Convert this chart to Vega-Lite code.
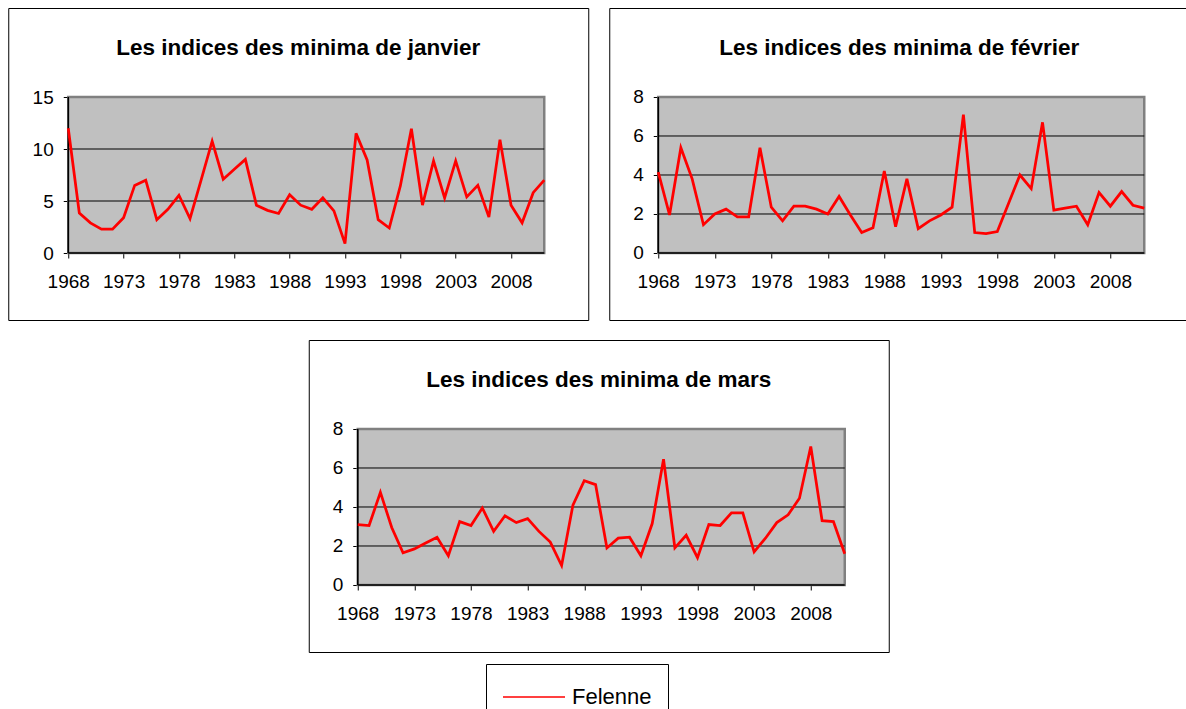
{
  "$schema": "https://vega.github.io/schema/vega-lite/v6.json",
  "padding": {"left": 7, "top": 7, "right": 0, "bottom": 0},
  "background": "white",
  "config": {
    "font": "Liberation Sans",
    "view": {"stroke": "black", "strokeWidth": 1},
    "title": {"fontSize": 22.5, "fontWeight": "bold", "color": "black", "anchor": "middle", "offset": -51, "font": "Liberation Sans"},
    "axis": {"labelFont": "Liberation Sans", "labelFontSize": 19, "labelColor": "black", "tickColor": "black", "tickSize": 5, "tickWidth": 1, "domain": false, "grid": false},
    "legend": {"orient": "none", "legendX": 478, "legendY": 656, "strokeColor": "black", "fillColor": "white", "padding": 16, "clipHeight": 34, "symbolType": "stroke", "symbolSize": 3844, "symbolStrokeWidth": 1.5, "labelFont": "Liberation Sans", "labelFontSize": 22, "labelColor": "black", "labelOffset": 6}
  },
  "datasets": {
    "jan": [
      {"year": 1968, "v": 12.0, "s": "Felenne"}, {"year": 1969, "v": 3.85, "s": "Felenne"}, {"year": 1970, "v": 2.9, "s": "Felenne"}, {"year": 1971, "v": 2.3, "s": "Felenne"},
      {"year": 1972, "v": 2.3, "s": "Felenne"}, {"year": 1973, "v": 3.4, "s": "Felenne"}, {"year": 1974, "v": 6.5, "s": "Felenne"}, {"year": 1975, "v": 7.0, "s": "Felenne"},
      {"year": 1976, "v": 3.2, "s": "Felenne"}, {"year": 1977, "v": 4.2, "s": "Felenne"}, {"year": 1978, "v": 5.55, "s": "Felenne"}, {"year": 1979, "v": 3.3, "s": "Felenne"},
      {"year": 1980, "v": 7.0, "s": "Felenne"}, {"year": 1981, "v": 10.75, "s": "Felenne"}, {"year": 1982, "v": 7.1, "s": "Felenne"}, {"year": 1983, "v": 8.05, "s": "Felenne"},
      {"year": 1984, "v": 9.0, "s": "Felenne"}, {"year": 1985, "v": 4.6, "s": "Felenne"}, {"year": 1986, "v": 4.1, "s": "Felenne"}, {"year": 1987, "v": 3.8, "s": "Felenne"},
      {"year": 1988, "v": 5.6, "s": "Felenne"}, {"year": 1989, "v": 4.6, "s": "Felenne"}, {"year": 1990, "v": 4.2, "s": "Felenne"}, {"year": 1991, "v": 5.3, "s": "Felenne"},
      {"year": 1992, "v": 4.05, "s": "Felenne"}, {"year": 1993, "v": 0.9, "s": "Felenne"}, {"year": 1994, "v": 11.5, "s": "Felenne"}, {"year": 1995, "v": 8.95, "s": "Felenne"},
      {"year": 1996, "v": 3.2, "s": "Felenne"}, {"year": 1997, "v": 2.4, "s": "Felenne"}, {"year": 1998, "v": 6.45, "s": "Felenne"}, {"year": 1999, "v": 11.95, "s": "Felenne"},
      {"year": 2000, "v": 4.6, "s": "Felenne"}, {"year": 2001, "v": 8.85, "s": "Felenne"}, {"year": 2002, "v": 5.3, "s": "Felenne"}, {"year": 2003, "v": 8.85, "s": "Felenne"},
      {"year": 2004, "v": 5.4, "s": "Felenne"}, {"year": 2005, "v": 6.5, "s": "Felenne"}, {"year": 2006, "v": 3.45, "s": "Felenne"}, {"year": 2007, "v": 10.9, "s": "Felenne"},
      {"year": 2008, "v": 4.6, "s": "Felenne"}, {"year": 2009, "v": 2.9, "s": "Felenne"}, {"year": 2010, "v": 5.8, "s": "Felenne"}, {"year": 2011, "v": 7.0, "s": "Felenne"}
    ],
    "feb": [
      {"year": 1968, "v": 4.15, "s": "Felenne"}, {"year": 1969, "v": 1.95, "s": "Felenne"}, {"year": 1970, "v": 5.4, "s": "Felenne"}, {"year": 1971, "v": 3.8, "s": "Felenne"},
      {"year": 1972, "v": 1.45, "s": "Felenne"}, {"year": 1973, "v": 2.0, "s": "Felenne"}, {"year": 1974, "v": 2.25, "s": "Felenne"}, {"year": 1975, "v": 1.85, "s": "Felenne"},
      {"year": 1976, "v": 1.85, "s": "Felenne"}, {"year": 1977, "v": 5.4, "s": "Felenne"}, {"year": 1978, "v": 2.35, "s": "Felenne"}, {"year": 1979, "v": 1.65, "s": "Felenne"},
      {"year": 1980, "v": 2.4, "s": "Felenne"}, {"year": 1981, "v": 2.4, "s": "Felenne"}, {"year": 1982, "v": 2.25, "s": "Felenne"}, {"year": 1983, "v": 2.0, "s": "Felenne"},
      {"year": 1984, "v": 2.9, "s": "Felenne"}, {"year": 1985, "v": 1.95, "s": "Felenne"}, {"year": 1986, "v": 1.05, "s": "Felenne"}, {"year": 1987, "v": 1.3, "s": "Felenne"},
      {"year": 1988, "v": 4.2, "s": "Felenne"}, {"year": 1989, "v": 1.35, "s": "Felenne"}, {"year": 1990, "v": 3.8, "s": "Felenne"}, {"year": 1991, "v": 1.25, "s": "Felenne"},
      {"year": 1992, "v": 1.65, "s": "Felenne"}, {"year": 1993, "v": 1.95, "s": "Felenne"}, {"year": 1994, "v": 2.35, "s": "Felenne"}, {"year": 1995, "v": 7.1, "s": "Felenne"},
      {"year": 1996, "v": 1.05, "s": "Felenne"}, {"year": 1997, "v": 1.0, "s": "Felenne"}, {"year": 1998, "v": 1.1, "s": "Felenne"}, {"year": 1999, "v": 2.55, "s": "Felenne"},
      {"year": 2000, "v": 4.0, "s": "Felenne"}, {"year": 2001, "v": 3.3, "s": "Felenne"}, {"year": 2002, "v": 6.7, "s": "Felenne"}, {"year": 2003, "v": 2.2, "s": "Felenne"},
      {"year": 2004, "v": 2.3, "s": "Felenne"}, {"year": 2005, "v": 2.4, "s": "Felenne"}, {"year": 2006, "v": 1.45, "s": "Felenne"}, {"year": 2007, "v": 3.1, "s": "Felenne"},
      {"year": 2008, "v": 2.4, "s": "Felenne"}, {"year": 2009, "v": 3.15, "s": "Felenne"}, {"year": 2010, "v": 2.45, "s": "Felenne"}, {"year": 2011, "v": 2.3, "s": "Felenne"}
    ],
    "mar": [
      {"year": 1968, "v": 3.1, "s": "Felenne"}, {"year": 1969, "v": 3.05, "s": "Felenne"}, {"year": 1970, "v": 4.75, "s": "Felenne"}, {"year": 1971, "v": 2.95, "s": "Felenne"},
      {"year": 1972, "v": 1.65, "s": "Felenne"}, {"year": 1973, "v": 1.85, "s": "Felenne"}, {"year": 1974, "v": 2.15, "s": "Felenne"}, {"year": 1975, "v": 2.45, "s": "Felenne"},
      {"year": 1976, "v": 1.5, "s": "Felenne"}, {"year": 1977, "v": 3.25, "s": "Felenne"}, {"year": 1978, "v": 3.05, "s": "Felenne"}, {"year": 1979, "v": 3.95, "s": "Felenne"},
      {"year": 1980, "v": 2.75, "s": "Felenne"}, {"year": 1981, "v": 3.55, "s": "Felenne"}, {"year": 1982, "v": 3.2, "s": "Felenne"}, {"year": 1983, "v": 3.4, "s": "Felenne"},
      {"year": 1984, "v": 2.75, "s": "Felenne"}, {"year": 1985, "v": 2.2, "s": "Felenne"}, {"year": 1986, "v": 1.0, "s": "Felenne"}, {"year": 1987, "v": 4.1, "s": "Felenne"},
      {"year": 1988, "v": 5.35, "s": "Felenne"}, {"year": 1989, "v": 5.15, "s": "Felenne"}, {"year": 1990, "v": 1.9, "s": "Felenne"}, {"year": 1991, "v": 2.4, "s": "Felenne"},
      {"year": 1992, "v": 2.45, "s": "Felenne"}, {"year": 1993, "v": 1.5, "s": "Felenne"}, {"year": 1994, "v": 3.15, "s": "Felenne"}, {"year": 1995, "v": 6.45, "s": "Felenne"},
      {"year": 1996, "v": 1.9, "s": "Felenne"}, {"year": 1997, "v": 2.55, "s": "Felenne"}, {"year": 1998, "v": 1.4, "s": "Felenne"}, {"year": 1999, "v": 3.1, "s": "Felenne"},
      {"year": 2000, "v": 3.05, "s": "Felenne"}, {"year": 2001, "v": 3.7, "s": "Felenne"}, {"year": 2002, "v": 3.7, "s": "Felenne"}, {"year": 2003, "v": 1.7, "s": "Felenne"},
      {"year": 2004, "v": 2.4, "s": "Felenne"}, {"year": 2005, "v": 3.2, "s": "Felenne"}, {"year": 2006, "v": 3.6, "s": "Felenne"}, {"year": 2007, "v": 4.45, "s": "Felenne"},
      {"year": 2008, "v": 7.1, "s": "Felenne"}, {"year": 2009, "v": 3.3, "s": "Felenne"}, {"year": 2010, "v": 3.25, "s": "Felenne"}, {"year": 2011, "v": 1.6, "s": "Felenne"}
    ],
    "grid15": [{"g": 5}, {"g": 10}],
    "grid8": [{"g": 2}, {"g": 4}, {"g": 6}],
    "one": [{}]
  },
  "spacing": 18,
  "center": true,
  "resolve": {"scale": {"color": "shared"}, "legend": {"color": "shared"}},
  "vconcat": [
    {
      "spacing": 19,
      "resolve": {"scale": {"color": "shared"}, "legend": {"color": "shared"}},
      "hconcat": [
        {
          "width": 580, "height": 312,
          "title": "Les indices des minima de janvier",
          "layer": [
            {"data": {"name": "one"}, "mark": {"type": "rect", "fill": "#C0C0C0", "stroke": "#808080", "strokeWidth": 2.5},
             "encoding": {"x": {"datum": 1968, "type": "quantitative"}, "x2": {"datum": 2011}, "y": {"datum": 0, "type": "quantitative"}, "y2": {"datum": 15}}},
            {"data": {"name": "grid15"}, "mark": {"type": "rule", "color": "black", "strokeWidth": 1},
             "encoding": {"x": {"datum": 1968, "type": "quantitative"}, "x2": {"datum": 2011}, "y": {"field": "g", "type": "quantitative"}}},
            {"data": {"name": "one"}, "mark": {"type": "rule", "color": "black", "strokeWidth": 1.5},
             "encoding": {"x": {"datum": 1968, "type": "quantitative"}, "y": {"datum": 0, "type": "quantitative"}, "y2": {"datum": 15}}},
            {"data": {"name": "one"}, "mark": {"type": "rule", "color": "black", "strokeWidth": 1.5},
             "encoding": {"x": {"datum": 1968, "type": "quantitative"}, "x2": {"datum": 2011}, "y": {"datum": 0, "type": "quantitative"}}},
            {"data": {"name": "jan"}, "mark": {"type": "line", "strokeWidth": 2.75},
             "encoding": {
               "x": {"field": "year", "type": "quantitative", "scale": {"domain": [1962.58, 2014.975], "nice": false, "zero": false},
                     "axis": {"values": [1968, 1973, 1978, 1983, 1988, 1993, 1998, 2003, 2008], "format": "d", "offset": -67, "labelPadding": 14, "title": null}},
               "y": {"field": "v", "type": "quantitative", "scale": {"domain": [-6.442, 23.558], "nice": false, "zero": false},
                     "axis": {"values": [0, 5, 10, 15], "offset": -60, "labelPadding": 10, "title": null}},
               "color": {"field": "s", "type": "nominal", "scale": {"domain": ["Felenne"], "range": ["#FF0000"]}, "legend": {"title": null}}
             }}
          ]
        },
        {
          "width": 580, "height": 312,
          "title": "Les indices des minima de février",
          "layer": [
            {"data": {"name": "one"}, "mark": {"type": "rect", "fill": "#C0C0C0", "stroke": "#808080", "strokeWidth": 2.5},
             "encoding": {"x": {"datum": 1968, "type": "quantitative"}, "x2": {"datum": 2011}, "y": {"datum": 0, "type": "quantitative"}, "y2": {"datum": 8}}},
            {"data": {"name": "grid8"}, "mark": {"type": "rule", "color": "black", "strokeWidth": 1},
             "encoding": {"x": {"datum": 1968, "type": "quantitative"}, "x2": {"datum": 2011}, "y": {"field": "g", "type": "quantitative"}}},
            {"data": {"name": "one"}, "mark": {"type": "rule", "color": "black", "strokeWidth": 1.5},
             "encoding": {"x": {"datum": 1968, "type": "quantitative"}, "y": {"datum": 0, "type": "quantitative"}, "y2": {"datum": 8}}},
            {"data": {"name": "one"}, "mark": {"type": "rule", "color": "black", "strokeWidth": 1.5},
             "encoding": {"x": {"datum": 1968, "type": "quantitative"}, "x2": {"datum": 2011}, "y": {"datum": 0, "type": "quantitative"}}},
            {"data": {"name": "feb"}, "mark": {"type": "line", "strokeWidth": 2.75},
             "encoding": {
               "x": {"field": "year", "type": "quantitative", "scale": {"domain": [1963.665, 2014.981], "nice": false, "zero": false},
                     "axis": {"values": [1968, 1973, 1978, 1983, 1988, 1993, 1998, 2003, 2008], "format": "d", "offset": -67, "labelPadding": 14, "title": null}},
               "y": {"field": "v", "type": "quantitative", "scale": {"domain": [-3.4359, 12.5641], "nice": false, "zero": false},
                     "axis": {"values": [0, 2, 4, 6, 8], "offset": -49, "labelPadding": 10, "title": null}},
               "color": {"field": "s", "type": "nominal", "scale": {"domain": ["Felenne"], "range": ["#FF0000"]}, "legend": {"title": null}}
             }}
          ]
        }
      ]
    },
    {
      "width": 580, "height": 312,
      "title": "Les indices des minima de mars",
      "layer": [
        {"data": {"name": "one"}, "mark": {"type": "rect", "fill": "#C0C0C0", "stroke": "#808080", "strokeWidth": 2.5},
         "encoding": {"x": {"datum": 1968, "type": "quantitative"}, "x2": {"datum": 2011}, "y": {"datum": 0, "type": "quantitative"}, "y2": {"datum": 8}}},
        {"data": {"name": "grid8"}, "mark": {"type": "rule", "color": "black", "strokeWidth": 1},
         "encoding": {"x": {"datum": 1968, "type": "quantitative"}, "x2": {"datum": 2011}, "y": {"field": "g", "type": "quantitative"}}},
        {"data": {"name": "one"}, "mark": {"type": "rule", "color": "black", "strokeWidth": 1.5},
         "encoding": {"x": {"datum": 1968, "type": "quantitative"}, "y": {"datum": 0, "type": "quantitative"}, "y2": {"datum": 8}}},
        {"data": {"name": "one"}, "mark": {"type": "rule", "color": "black", "strokeWidth": 1.5},
         "encoding": {"x": {"datum": 1968, "type": "quantitative"}, "x2": {"datum": 2011}, "y": {"datum": 0, "type": "quantitative"}}},
        {"data": {"name": "mar"}, "mark": {"type": "line", "strokeWidth": 2.75},
         "encoding": {
           "x": {"field": "year", "type": "quantitative", "scale": {"domain": [1963.674, 2014.885], "nice": false, "zero": false},
                 "axis": {"values": [1968, 1973, 1978, 1983, 1988, 1993, 1998, 2003, 2008], "format": "d", "offset": -67, "labelPadding": 14, "title": null}},
           "y": {"field": "v", "type": "quantitative", "scale": {"domain": [-3.4359, 12.5641], "nice": false, "zero": false},
                 "axis": {"values": [0, 2, 4, 6, 8], "offset": -49, "labelPadding": 10, "title": null}},
           "color": {"field": "s", "type": "nominal", "scale": {"domain": ["Felenne"], "range": ["#FF0000"]}, "legend": {"title": null}}
         }}
      ]
    }
  ]
}
